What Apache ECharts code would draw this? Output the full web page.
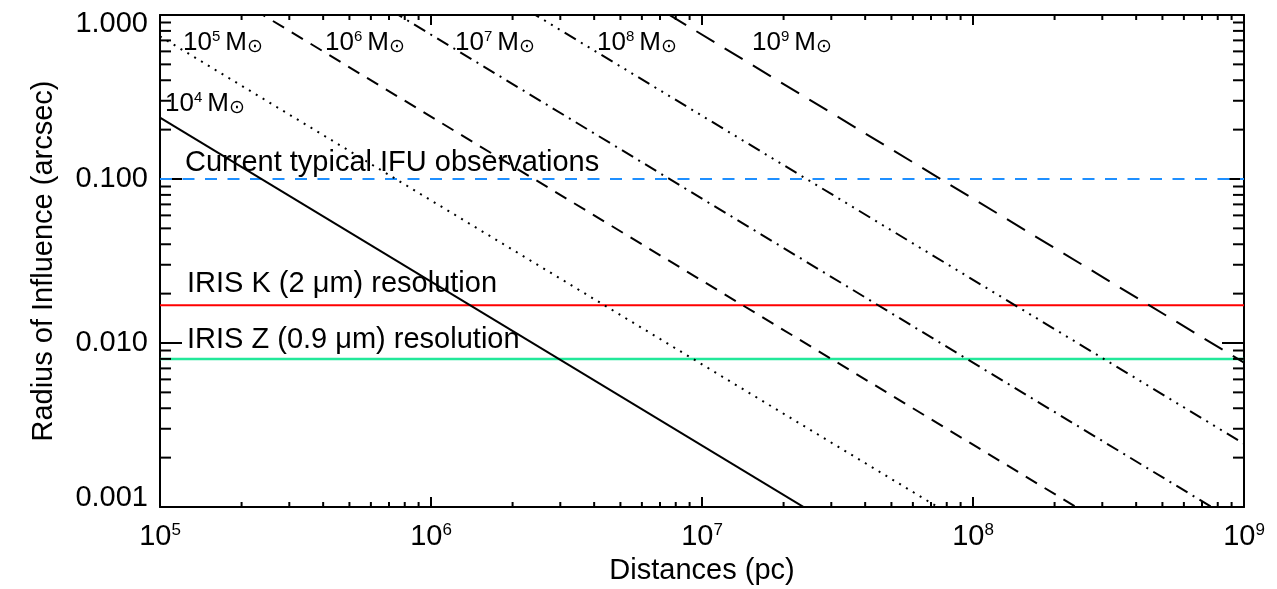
<!DOCTYPE html>
<html>
<head>
<meta charset="utf-8">
<script src="https://cdn.jsdelivr.net/npm/echarts@6/dist/echarts.min.js"></script>
<style>
  html, body { margin: 0; padding: 0; background: #ffffff; }
  #chart { width: 1277px; height: 589px; }
</style>
</head>
<body>
<div id="chart"></div>
<script>
// Distance span of every black-hole line (pc)
const distances = [1e5, 1e9];

// Sphere-of-influence radius (arcsec) at 1e5 pc and at 1e9 pc, per black-hole mass
const massExponents = ['4', '5', '6', '7', '8', '9'];
const radiusM1e4 = [0.237, 2.37e-5];
const radiusM1e5 = [0.741, 7.41e-5];
const radiusM1e6 = [2.40, 2.40e-4];
const radiusM1e7 = [7.59, 7.59e-4];
const radiusM1e8 = [24.3, 2.43e-3];
const radiusM1e9 = [75.9, 7.59e-3];

// Angular resolution levels (arcsec)
const ifuTypical = 0.1;
const irisK = 0.017;
const irisZ = 0.008;

// Axis ticks
const xTicks = [1e5, 1e6, 1e7, 1e8, 1e9];
const xTickExponents = ['5', '6', '7', '8', '9'];
const yTicks = [0.001, 0.01, 0.1, 1];
const yTickLabels = ['0.001', '0.010', '0.100', '1.000'];
const minorSteps = [2, 3, 4, 5, 6, 7, 8, 9];

const xRange = [xTicks[0], xTicks[xTicks.length - 1]];
const yRange = [yTicks[0], yTicks[yTicks.length - 1]];

const FONT = '"Liberation Sans", Arial, Helvetica, sans-serif';
const TEXT_SIZE = 29;
const X_MINOR_LEN = 5;
const Y_MINOR_LEN = 11;

// Minor tick values at 2..9 of each decade
const minorTickData = [];
xTicks.slice(0, -1).forEach(d => minorSteps.forEach(s => minorTickData.push([d * s, yRange[0], 0])));
yTicks.slice(0, -1).forEach(d => minorSteps.forEach(s => minorTickData.push([xRange[0], d * s, 1])));

function nearestIndex(ticks, v) {
  let best = 0, bestErr = Infinity;
  ticks.forEach((t, i) => {
    const err = Math.abs(Math.log10(t) - Math.log10(v));
    if (err < bestErr) { bestErr = err; best = i; }
  });
  return best;
}

function massLine(name, values, dash) {
  return {
    type: 'line',
    name: name,
    data: distances.map((d, i) => [d, values[i]]),
    symbol: 'none',
    clip: true,
    silent: true,
    animation: false,
    z: 4,
    lineStyle: { color: '#000000', width: 2, type: dash, cap: 'butt' }
  };
}

function levelLine(name, value, color, dash, width) {
  return {
    type: 'line',
    name: name,
    data: distances.map(d => [d, value]),
    symbol: 'none',
    clip: true,
    silent: true,
    animation: false,
    z: 3,
    lineStyle: { color: color, width: width, type: dash, cap: 'butt' }
  };
}

function renderMinorTick(params, api) {
  const kind = api.value(2);
  const sty = { stroke: '#000000', lineWidth: 2 };
  if (kind === 0) {
    const v = api.value(0);
    const b = api.coord([v, yRange[0]]);
    const t = api.coord([v, yRange[1]]);
    return { type: 'group', children: [
      { type: 'line', shape: { x1: b[0], y1: b[1], x2: b[0], y2: b[1] - X_MINOR_LEN }, style: sty },
      { type: 'line', shape: { x1: t[0], y1: t[1], x2: t[0], y2: t[1] + X_MINOR_LEN }, style: sty }
    ]};
  }
  const v = api.value(1);
  const l = api.coord([xRange[0], v]);
  const r = api.coord([xRange[1], v]);
  return { type: 'group', children: [
    { type: 'line', shape: { x1: l[0], y1: l[1], x2: l[0] + Y_MINOR_LEN, y2: l[1] }, style: sty },
    { type: 'line', shape: { x1: r[0], y1: r[1], x2: r[0] - Y_MINOR_LEN, y2: r[1] }, style: sty }
  ]};
}

function massLabel(exp, x, y) {
  return {
    type: 'text', x: x, y: y, z: 10, silent: true,
    style: {
      text: '{n|10}{s|' + exp + '}{m|M}{o|\u2299}',
      fill: '#000000',
      verticalAlign: 'top',
      rich: {
        n: { fontSize: 26, fontFamily: FONT, lineHeight: 28, verticalAlign: 'middle', fill: '#000000' },
        s: { fontSize: 15, fontFamily: FONT, lineHeight: 14, verticalAlign: 'top', fill: '#000000' },
        m: { fontSize: 26, fontFamily: FONT, lineHeight: 28, verticalAlign: 'middle', padding: [0, 0, 0, 5], fill: '#000000' },
        o: { fontSize: 19, fontFamily: '"DejaVu Sans", sans-serif', lineHeight: 14, verticalAlign: 'bottom', fill: '#000000' }
      }
    }
  };
}

function annotation(text, x, y) {
  return {
    type: 'text', x: x, y: y, z: 10, silent: true,
    style: { text: text, fill: '#000000', fontSize: TEXT_SIZE, fontFamily: FONT, verticalAlign: 'middle' }
  };
}

const axisLineStyle = { show: true, lineStyle: { color: '#000000', width: 2 } };

const chart = echarts.init(document.getElementById('chart'), null, { renderer: 'canvas' });

chart.setOption({
  animation: false,
  backgroundColor: '#ffffff',
  grid: { left: 160, right: 33, top: 15, bottom: 82, containLabel: false, outerBoundsMode: 'none' },
  xAxis: [
    {
      type: 'log', logBase: 10, min: xRange[0], max: xRange[1], position: 'bottom',
      axisLine: axisLineStyle,
      axisTick: { show: true, inside: true, length: 10, lineStyle: { color: '#000000', width: 2 } },
      splitLine: { show: false },
      axisLabel: {
        show: true, margin: 15,
        formatter: v => '{b|10}{s|' + xTickExponents[nearestIndex(xTicks, v)] + '}',
        rich: {
          b: { fontSize: TEXT_SIZE, fontFamily: FONT, color: '#000000', lineHeight: 30, verticalAlign: 'middle' },
          s: { fontSize: 17, fontFamily: FONT, color: '#000000', lineHeight: 10, verticalAlign: 'top' }
        }
      },
      name: 'Distances (pc)', nameLocation: 'middle', nameGap: 48,
      nameTextStyle: { fontSize: TEXT_SIZE, fontFamily: FONT, color: '#000000' }
    },
    {
      type: 'log', logBase: 10, min: xRange[0], max: xRange[1], position: 'top',
      axisLine: axisLineStyle,
      axisTick: { show: true, inside: true, length: 10, lineStyle: { color: '#000000', width: 2 } },
      splitLine: { show: false },
      axisLabel: { show: false }
    }
  ],
  yAxis: [
    {
      type: 'log', logBase: 10, min: yRange[0], max: yRange[1], position: 'left',
      axisLine: axisLineStyle,
      axisTick: { show: true, inside: true, length: 22, lineStyle: { color: '#000000', width: 2 } },
      splitLine: { show: false },
      axisLabel: {
        show: true, margin: 12, fontSize: TEXT_SIZE, fontFamily: FONT, color: '#000000', lineHeight: 18,
        verticalAlignMinLabel: 'bottom', verticalAlignMaxLabel: 'top',
        formatter: v => yTickLabels[nearestIndex(yTicks, v)]
      },
      name: 'Radius of Influence (arcsec)', nameLocation: 'middle', nameGap: 102,
      nameTextStyle: { fontSize: TEXT_SIZE, fontFamily: FONT, color: '#000000' }
    },
    {
      type: 'log', logBase: 10, min: yRange[0], max: yRange[1], position: 'right',
      axisLine: axisLineStyle,
      axisTick: { show: true, inside: true, length: 22, lineStyle: { color: '#000000', width: 2 } },
      splitLine: { show: false },
      axisLabel: { show: false }
    }
  ],
  series: [
    levelLine('Current typical IFU observations', ifuTypical, '#1E8FFF', [12, 10.5], 2),
    levelLine('IRIS K (2 \u03bcm) resolution', irisK, '#FF0000', 'solid', 2),
    levelLine('IRIS Z (0.9 \u03bcm) resolution', irisZ, '#22E89A', 'solid', 2.5),
    massLine('1e4 Msun', radiusM1e4, 'solid'),
    massLine('1e5 Msun', radiusM1e5, [2, 6]),
    massLine('1e6 Msun', radiusM1e6, [13, 9]),
    massLine('1e7 Msun', radiusM1e7, [13, 6, 2, 6]),
    massLine('1e8 Msun', radiusM1e8, [13, 6, 2, 6, 2, 6, 2, 6]),
    massLine('1e9 Msun', radiusM1e9, [21, 12]),
    {
      type: 'custom',
      name: 'minor ticks',
      data: minorTickData,
      encode: { x: 0, y: 1 },
      renderItem: renderMinorTick,
      clip: false,
      silent: true,
      animation: false,
      z: 5
    }
  ],
  graphic: [
    annotation('Current typical IFU observations', 185, 163),
    annotation('IRIS K (2 \u03bcm) resolution', 187, 284),
    annotation('IRIS Z (0.9 \u03bcm) resolution', 187, 340),
    massLabel(massExponents[0], 165, 90),
    massLabel(massExponents[1], 183, 29),
    massLabel(massExponents[2], 325, 29),
    massLabel(massExponents[3], 455, 29),
    massLabel(massExponents[4], 597, 29),
    massLabel(massExponents[5], 752, 29)
  ]
});
</script>
</body>
</html>
